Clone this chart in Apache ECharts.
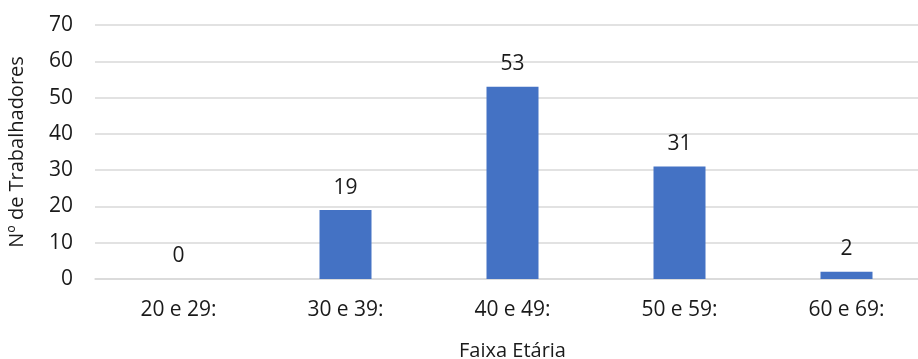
<!DOCTYPE html>
<html>
<head>
<meta charset="utf-8">
<script src="https://cdn.jsdelivr.net/npm/echarts@6/dist/echarts.min.js"></script>
<style>
  html, body { margin: 0; padding: 0; background: #fff; }
  #chart { width: 918px; height: 359px; }
</style>
</head>
<body>
<div id="chart"></div>
<script>
const categories = ['20 e 29:', '30 e 39:', '40 e 49:', '50 e 59:', '60 e 69:'];
const workers = [0, 19, 53, 31, 2];

const font = '"Open Sans", "Noto Sans", sans-serif';
const textColor = '#1a1a1a';

const chart = echarts.init(document.getElementById('chart'));

chart.setOption({
  animation: false,
  textStyle: { fontFamily: font },
  grid: {
    left: 95,
    top: 25,
    width: 835,
    height: 254,
    containLabel: false,
    outerBoundsMode: 'none',
  },
  xAxis: {
    type: 'category',
    data: categories,
    name: 'Faixa Etária',
    nameLocation: 'middle',
    nameGap: 62,
    nameTextStyle: { fontSize: 20, color: textColor, fontFamily: font },
    axisLine: { show: true, lineStyle: { color: '#d9d9d9', width: 1.5 } },
    axisTick: { show: false },
    axisLabel: { fontSize: 21, color: textColor, margin: 21, fontFamily: font },
  },
  yAxis: {
    type: 'value',
    min: 0,
    max: 70,
    interval: 10,
    name: 'Nº de Trabalhadores',
    nameLocation: 'middle',
    nameGap: 68,
    nameTextStyle: { fontSize: 20, color: textColor, fontFamily: font },
    axisLine: { show: false },
    axisTick: { show: false },
    axisLabel: { fontSize: 21, color: textColor, margin: 22, fontFamily: font },
    splitLine: { lineStyle: { color: '#d9d9d9', width: 1.5 } },
  },
  series: [
    {
      type: 'bar',
      data: workers,
      barWidth: 52,
      itemStyle: { color: '#4472c4' },
      label: {
        show: true,
        position: 'top',
        distance: 12,
        fontSize: 21,
        color: textColor,
        fontFamily: font,
      },
    },
  ],
});
</script>
</body>
</html>
